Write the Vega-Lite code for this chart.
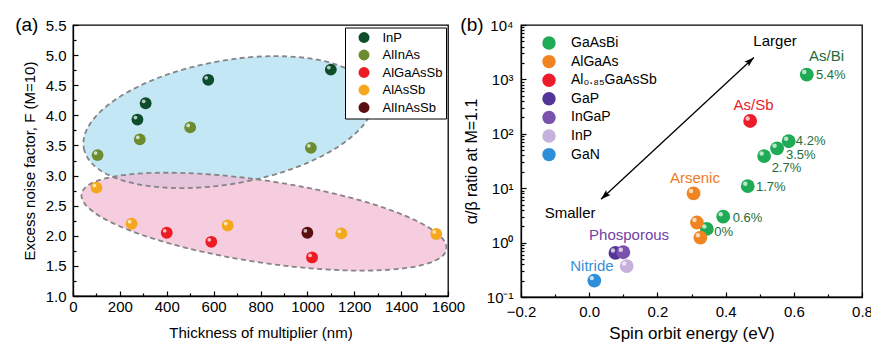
{
  "$schema": "https://vega.github.io/schema/vega-lite/v6.json",
  "background": "white",
  "padding": {"left": 14, "top": 15, "right": 0, "bottom": 0},
  "config": {
    "font": "Liberation Sans",
    "view": {"stroke": "black", "strokeWidth": 1.3},
    "axis": {"domainColor": "black", "domainWidth": 1.3, "tickColor": "black", "tickWidth": 1.2, "labelColor": "black", "titleColor": "black", "titleFontWeight": "normal", "grid": false, "labelFont": "Liberation Sans", "titleFont": "Liberation Sans", "labelOverlap": false, "labelFlush": false},
    "legend": {"labelFont": "Liberation Sans", "labelColor": "black"},
    "title": {"font": "Liberation Sans", "fontWeight": "normal", "color": "black"}
  },
  "datasets": {
    "a_regions": [
      {"region": "high", "thickness": 663, "F": 3.887},
      {"region": "low", "thickness": 815, "F": 2.234}
    ],
    "a_points": [
      {"material": "InP", "thickness": 275, "F": 3.93},
      {"material": "InP", "thickness": 310, "F": 4.2},
      {"material": "InP", "thickness": 577, "F": 4.59},
      {"material": "InP", "thickness": 1100, "F": 4.76},
      {"material": "AlInAs", "thickness": 105, "F": 3.34},
      {"material": "AlInAs", "thickness": 285, "F": 3.6},
      {"material": "AlInAs", "thickness": 500, "F": 3.8},
      {"material": "AlInAs", "thickness": 1015, "F": 3.46},
      {"material": "AlGaAsSb", "thickness": 400, "F": 2.05},
      {"material": "AlGaAsSb", "thickness": 590, "F": 1.9},
      {"material": "AlGaAsSb", "thickness": 1020, "F": 1.64},
      {"material": "AlAsSb", "thickness": 100, "F": 2.8},
      {"material": "AlAsSb", "thickness": 250, "F": 2.2},
      {"material": "AlAsSb", "thickness": 660, "F": 2.17},
      {"material": "AlAsSb", "thickness": 1145, "F": 2.04},
      {"material": "AlAsSb", "thickness": 1550, "F": 2.03},
      {"material": "AlInAsSb", "thickness": 1000, "F": 2.05}
    ],
    "b_points": [
      {"material": "GaAsBi", "soe": 0.638, "ratio": 1225},
      {"material": "GaAsBi", "soe": 0.585, "ratio": 73},
      {"material": "GaAsBi", "soe": 0.551, "ratio": 54},
      {"material": "GaAsBi", "soe": 0.513, "ratio": 39},
      {"material": "GaAsBi", "soe": 0.465, "ratio": 10.9},
      {"material": "GaAsBi", "soe": 0.393, "ratio": 2.99},
      {"material": "GaAsBi", "soe": 0.345, "ratio": 1.78},
      {"material": "AlGaAs", "soe": 0.306, "ratio": 8.0},
      {"material": "AlGaAs", "soe": 0.316, "ratio": 2.34},
      {"material": "AlGaAs", "soe": 0.326, "ratio": 1.23},
      {"material": "Al₀.₈₅GaAsSb", "soe": 0.472, "ratio": 172},
      {"material": "GaP", "soe": 0.077, "ratio": 0.645},
      {"material": "InGaP", "soe": 0.1, "ratio": 0.665},
      {"material": "InP", "soe": 0.11, "ratio": 0.37},
      {"material": "GaN", "soe": 0.015, "ratio": 0.2}
    ],
    "b_names": [
      {"label": "As/Bi", "kind": "Bi", "soe": 0.696, "ratio": 2680},
      {"label": "As/Sb", "kind": "Sb", "soe": 0.482, "ratio": 338},
      {"label": "Arsenic", "kind": "As", "soe": 0.31, "ratio": 15.6},
      {"label": "Phosporous", "kind": "P", "soe": 0.117, "ratio": 1.38},
      {"label": "Nitride", "kind": "N", "soe": 0.008, "ratio": 0.365},
      {"label": "Larger", "kind": "arrow", "soe": 0.545, "ratio": 5100},
      {"label": "Smaller", "kind": "arrow", "soe": -0.056, "ratio": 3.48}
    ],
    "b_pcts": [
      {"label": "5.4%", "soe": 0.665, "ratio": 1225},
      {"label": "4.2%", "soe": 0.606, "ratio": 75},
      {"label": "3.5%", "soe": 0.577, "ratio": 41.5},
      {"label": "2.7%", "soe": 0.535, "ratio": 24},
      {"label": "1.7%", "soe": 0.489, "ratio": 10.5},
      {"label": "0.6%", "soe": 0.421, "ratio": 2.81},
      {"label": "0%", "soe": 0.367, "ratio": 1.59}
    ],
    "b_arrow": [
      {"soe": 0.0346, "ratio": 6.27, "soe2": 0.483, "ratio2": 2535}
    ],
    "b_heads": [
      {"end": "large", "soe": 0.483, "ratio": 2535},
      {"end": "small", "soe": 0.0346, "ratio": 6.27}
    ]
  },
  "bounds": "flush",
  "spacing": 73,
  "resolve": {"scale": {"color": "independent", "x": "independent", "y": "independent"}, "legend": {"color": "independent"}},
  "hconcat": [
    {
      "width": 375,
      "height": 271,
      "title": {"text": "(a)", "anchor": "start", "frame": "bounds", "orient": "top", "fontSize": 19, "offset": -17, "dx": -7},
      "encoding": {
        "x": {"field": "thickness", "type": "quantitative", "scale": {"domain": [0, 1600], "nice": false, "zero": false},
          "axis": {"values": [0,100,200,300,400,500,600,700,800,900,1000,1100,1200,1300,1400,1500,1600], "format": "d",
            "labelExpr": "datum.value % 200 === 0 ? datum.label : ''",
            "tickSize": {"condition": {"test": "datum.value % 200 === 0", "value": -5}, "value": -3},
            "labelPadding": 8, "labelFontSize": 15, "title": "Thickness of multiplier (nm)", "titleFontSize": 15, "titlePadding": 9}},
        "y": {"field": "F", "type": "quantitative", "scale": {"domain": [1, 5.5], "nice": false, "zero": false},
          "axis": {"values": [1,1.25,1.5,1.75,2,2.25,2.5,2.75,3,3.25,3.5,3.75,4,4.25,4.5,4.75,5,5.25,5.5],
            "labelExpr": "(datum.value * 2) % 1 === 0 ? format(datum.value, '.1f') : ''",
            "tickSize": {"condition": {"test": "(datum.value * 2) % 1 === 0", "value": -5}, "value": -3},
            "labelPadding": 12, "labelFontSize": 15, "title": "Excess noise factor, F (M=10)", "titleFontSize": 15, "titlePadding": 8}}
      },
      "layer": [
        {"data": {"name": "a_regions"}, "transform": [{"filter": "datum.region === 'high'"}],
          "mark": {"type": "point", "shape": "M -1.469 0 A 1.469 0.616 0 1 0 1.469 0 A 1.469 0.616 0 1 0 -1.469 0 Z", "size": 40000, "angle": 349.8, "filled": true, "fill": "#c3e7f5", "opacity": 1, "strokeWidth": 0}},
        {"data": {"name": "a_regions"}, "transform": [{"filter": "datum.region === 'low'"}],
          "mark": {"type": "point", "shape": "M -1.845 0 A 1.845 0.409 0 1 0 1.845 0 A 1.845 0.409 0 1 0 -1.845 0 Z", "size": 40000, "angle": 8.6, "filled": true, "fill": "#f2b8d3", "opacity": 0.72, "strokeWidth": 0}},
        {"data": {"name": "a_regions"}, "transform": [{"filter": "datum.region === 'high'"}],
          "mark": {"type": "point", "shape": "M -1.469 0 A 1.469 0.616 0 1 0 1.469 0 A 1.469 0.616 0 1 0 -1.469 0 Z", "size": 40000, "angle": 349.8, "filled": false, "stroke": "#858585", "strokeWidth": 1.8, "strokeDash": [5, 3.5], "opacity": 1}},
        {"data": {"name": "a_regions"}, "transform": [{"filter": "datum.region === 'low'"}],
          "mark": {"type": "point", "shape": "M -1.845 0 A 1.845 0.409 0 1 0 1.845 0 A 1.845 0.409 0 1 0 -1.845 0 Z", "size": 40000, "angle": 8.6, "filled": false, "stroke": "#858585", "strokeWidth": 1.8, "strokeDash": [5, 3.5], "opacity": 1}},
        {"data": {"name": "a_points"},
          "mark": {"type": "point", "shape": "circle", "filled": true, "size": 140, "opacity": 1, "strokeWidth": 0},
          "encoding": {"color": {"field": "material", "type": "nominal",
            "scale": {"domain": ["InP", "AlInAs", "AlGaAsSb", "AlAsSb", "AlInAsSb"], "range": ["#0e4d2c", "#6c8c30", "#ed1c24", "#f4a81d", "#5b0f12"]},
            "legend": {"title": null, "orient": "none", "legendX": 272, "legendY": 2.5, "strokeColor": "black", "fillColor": "white", "padding": 3.5, "symbolOffset": 9, "labelOffset": 12, "labelFontSize": 13, "symbolSize": 120, "symbolType": "circle", "rowPadding": 3.5, "symbolStrokeWidth": 0, "symbolOpacity": 1}}}},
        {"data": {"name": "a_points"},
          "mark": {"type": "point", "shape": "circle", "filled": true, "size": 14, "fill": "white", "opacity": 0.7, "xOffset": -2, "yOffset": -2, "strokeWidth": 0}}
      ]
    },
    {
      "width": 341,
      "height": 272,
      "title": {"text": "(b)", "anchor": "start", "frame": "bounds", "orient": "top", "fontSize": 19, "offset": -17, "dx": -3},
      "encoding": {
        "x": {"field": "soe", "type": "quantitative", "scale": {"domain": [-0.2, 0.8], "nice": false, "zero": false},
          "axis": {"values": [-0.2,-0.1,0,0.1,0.2,0.3,0.4,0.5,0.6,0.7,0.8],
            "labelExpr": "abs(datum.value * 5 - round(datum.value * 5)) < 1e-6 ? format(datum.value, '.1f') : ''",
            "tickSize": {"condition": {"test": "abs(datum.value * 5 - round(datum.value * 5)) < 1e-6", "value": -5}, "value": -3},
            "labelPadding": 12, "labelFontSize": 15, "title": "Spin orbit energy (eV)", "titleFontSize": 17, "titlePadding": 4}},
        "y": {"field": "ratio", "type": "quantitative", "scale": {"type": "log", "domain": [0.1, 10000], "nice": false},
          "axis": {"values": [0.1,0.2,0.3,0.4,0.5,0.6,0.7,0.8,0.9,1,2,3,4,5,6,7,8,9,10,20,30,40,50,60,70,80,90,100,200,300,400,500,600,700,800,900,1000,2000,3000,4000,5000,6000,7000,8000,9000,10000],
            "labelExpr": "abs(log(datum.value)/LN10 - round(log(datum.value)/LN10)) < 1e-6 ? '10' + ['⁻¹','⁰','¹','²','³','⁴'][round(log(datum.value)/LN10) + 1] : ''",
            "tickSize": {"condition": {"test": "abs(log(datum.value)/LN10 - round(log(datum.value)/LN10)) < 1e-6", "value": -5}, "value": -3},
            "labelPadding": 13, "labelFontSize": 15, "title": "α/β ratio at M=1.1", "titleFontSize": 16, "titlePadding": 7}}
      },
      "layer": [
        {"data": {"name": "b_arrow"},
          "mark": {"type": "rule", "color": "black", "strokeWidth": 1.3},
          "encoding": {"x2": {"field": "soe2"}, "y2": {"field": "ratio2"}}},
        {"data": {"name": "b_heads"}, "transform": [{"filter": "datum.end === 'large'"}],
          "mark": {"type": "point", "shape": "M 0 0 L 0.33 1 L 0 0.8 L -0.33 1 Z", "size": 400, "angle": 47.5, "filled": true, "fill": "black", "opacity": 1, "strokeWidth": 0}},
        {"data": {"name": "b_heads"}, "transform": [{"filter": "datum.end === 'small'"}],
          "mark": {"type": "point", "shape": "M 0 0 L 0.33 1 L 0 0.8 L -0.33 1 Z", "size": 400, "angle": 227.5, "filled": true, "fill": "black", "opacity": 1, "strokeWidth": 0}},
        {"data": {"name": "b_points"},
          "mark": {"type": "point", "shape": "circle", "filled": true, "size": 190, "opacity": 1, "strokeWidth": 0},
          "encoding": {"color": {"field": "material", "type": "nominal",
            "scale": {"domain": ["GaAsBi", "AlGaAs", "Al₀.₈₅GaAsSb", "GaP", "InGaP", "InP", "GaN"], "range": ["#1fab55", "#f18422", "#ec1c2b", "#523596", "#7a52ad", "#c6b1dc", "#2e8fd8"]},
            "legend": {"title": null, "orient": "none", "legendX": 21, "legendY": 11, "padding": 0, "labelOffset": 15, "labelFontSize": 14, "symbolSize": 180, "symbolType": "circle", "rowPadding": 4.6, "symbolStrokeWidth": 0, "symbolOpacity": 1}}}},
        {"data": {"name": "b_points"},
          "mark": {"type": "point", "shape": "circle", "filled": true, "size": 20, "fill": "white", "opacity": 0.7, "xOffset": -2.5, "yOffset": -2.5, "strokeWidth": 0}},
        {"data": {"name": "b_names"},
          "mark": {"type": "text", "align": "center", "baseline": "middle", "fontSize": 15},
          "encoding": {"text": {"field": "label"}, "color": {"field": "kind", "type": "nominal",
            "scale": {"domain": ["Bi", "Sb", "As", "P", "N", "arrow"], "range": ["#1c6e3b", "#e8202a", "#f07a23", "#6e42a5", "#3a90d8", "#000000"]}, "legend": null}}},
        {"data": {"name": "b_pcts"},
          "mark": {"type": "text", "align": "left", "baseline": "middle", "fontSize": 13, "color": "#1c6e3b"},
          "encoding": {"text": {"field": "label"}}}
      ],
      "resolve": {"scale": {"color": "independent"}, "legend": {"color": "independent"}}
    }
  ]
}
